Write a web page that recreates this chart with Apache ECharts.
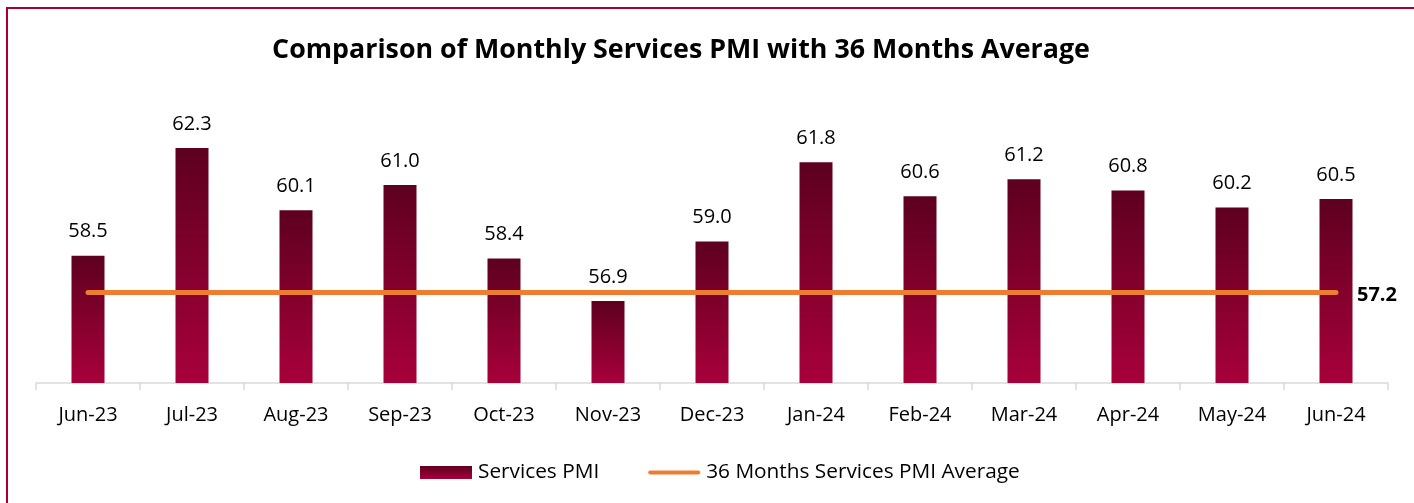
<!doctype html>
<html lang="en">
	<head>
		<meta charset="UTF-8">
		<title>Services PMI</title>
		<script src="https://cdn.jsdelivr.net/npm/echarts@6/dist/echarts.min.js"></script>
	</head>
	<body style="margin:0">
		<div id="chart" style="width: 1414px; height: 503px;"></div>
		<script>
			const months = ['Jun-23', 'Jul-23', 'Aug-23', 'Sep-23', 'Oct-23', 'Nov-23', 'Dec-23',
				'Jan-24', 'Feb-24', 'Mar-24', 'Apr-24', 'May-24', 'Jun-24']
			const pmi = [58.5, 62.3, 60.1, 61.0, 58.4, 56.9, 59.0, 61.8, 60.6, 61.2, 60.8, 60.2, 60.5]
			const avg36 = 57.2
			const avgLine = months.map(() => avg36)

			let mCharts = echarts.init(document.getElementById('chart'))
			const font = 'Open Sans'
			let option = {
				backgroundColor: '#fff',
				textStyle: { fontFamily: font },
				title: {
					text: 'Comparison of Monthly Services PMI with 36 Months Average',
					left: 676,
					textAlign: 'center',
					top: 32,
					textStyle: { fontFamily: font, fontSize: 26.8, fontWeight: 'bold', color: '#000' }
				},
				graphic: [{
					type: 'rect',
					shape: { x: 7, y: 8, width: 1430, height: 520 },
					style: { fill: 'none', stroke: '#a50034', lineWidth: 2 },
					silent: true
				}],
				legend: {
					top: 457,
					left: 415,
					itemGap: 49,
					itemWidth: 52,
					itemHeight: 13,
					textStyle: { fontFamily: font, fontSize: 20.8, color: '#000', padding: [0, 0, 0, 1] },
					data: [
						{ name: 'Services PMI', icon: 'rect' },
						{ name: '36 Months Services PMI Average', icon: 'path://M2,0 H50 A2,2 0 0 1 50,4 H2 A2,2 0 0 1 2,0 Z' }
					]
				},
				grid: { left: 36, right: 26, top: 100, bottom: 120 },
				xAxis: {
					type: 'category',
					data: months,
					axisLine: { lineStyle: { color: '#d9d9d9', width: 1.5 } },
					axisTick: { show: true, length: 7, lineStyle: { color: '#d9d9d9', width: 1.5 } },
					axisLabel: { fontFamily: font, fontSize: 20, color: '#000', margin: 22 }
				},
				yAxis: {
					type: 'value',
					min: 54,
					max: 64,
					show: false
				},
				series: [{
					name: 'Services PMI',
					type: 'bar',
					data: pmi,
					barWidth: 33,
					itemStyle: {
						color: new echarts.graphic.LinearGradient(0, 0, 0, 1, [
							{ offset: 0, color: '#5e0020' },
							{ offset: 1, color: '#a8003a' }
						])
					},
					label: {
						show: true,
						position: 'top',
						distance: 14,
						formatter: (p) => p.value.toFixed(1),
						fontFamily: font,
						fontSize: 20,
						color: '#000'
					}
				}, {
					name: '36 Months Services PMI Average',
					type: 'line',
					data: avgLine,
					symbol: 'none',
					lineStyle: { color: '#ed7d31', width: 5, cap: 'round' },
					itemStyle: { color: '#ed7d31' },
					endLabel: {
						show: true,
						formatter: avg36.toFixed(1),
						fontFamily: font,
						fontSize: 20,
						fontWeight: 'bold',
						color: '#000',
						distance: 21,
						offset: [0, 3]
					},
					z: 3
				}]
			}
			mCharts.setOption(option)
		</script>
	</body>
</html>
